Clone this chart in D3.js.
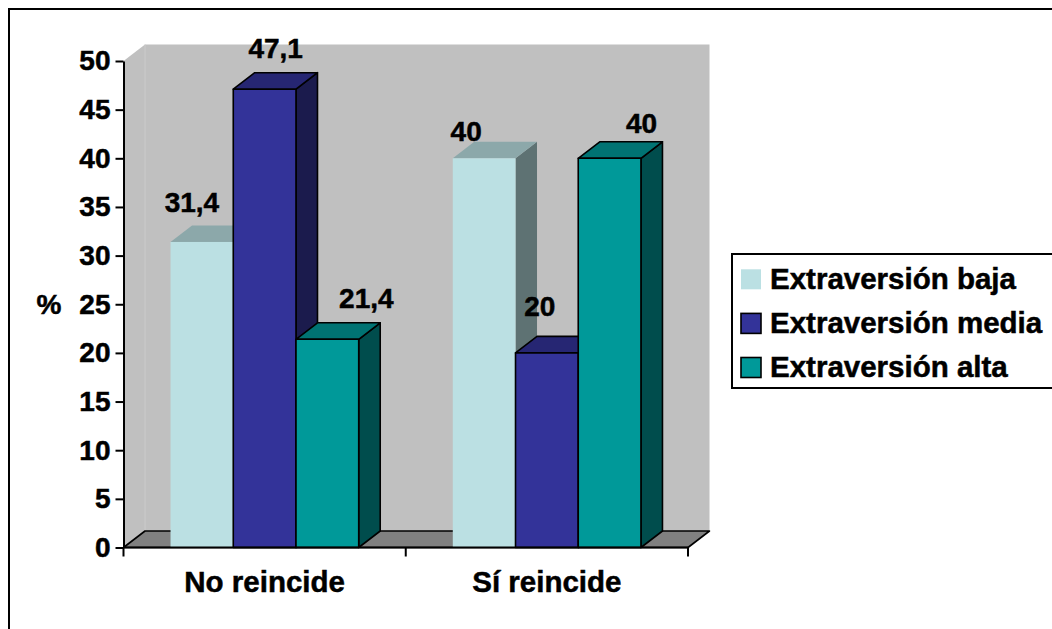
<!DOCTYPE html>
<html>
<head>
<meta charset="utf-8">
<script src="https://cdn.jsdelivr.net/npm/d3@7"></script>
<style>
  body { margin: 0; background: #fff; }
  svg { display: block; }
  text { font-family: "Liberation Sans", Arial, sans-serif; font-weight: bold; fill: #000;
         stroke: #000; stroke-width: 0.5px; }
</style>
</head>
<body>
<svg id="chart" width="1052" height="629"></svg>
<script>
// ---- data ----
const categories = ["No reincide", "Sí reincide"];
const seriesNames = ["Extraversión baja", "Extraversión media", "Extraversión alta"];
const baja  = [31.4, 40];
const media = [47.1, 20];
const alta  = [21.4, 40];
const yTicks = [0, 5, 10, 15, 20, 25, 30, 35, 40, 45, 50];
const yLabel = "%";

// ---- styles ----
const palette = [
  { front: "#BBE0E3", top: "#8CA8AA", side: "#5E7273", stroke: "none" },
  { front: "#333399", top: "#262673", side: "#1B1B4D", stroke: "#000" },
  { front: "#009999", top: "#007373", side: "#004D4D", stroke: "#000" }
];
// value-label nudges (px) from the top-front centre of each bar, per category / series
const labelShift = [
  [[-10, -30], [11, -31], [39, -31]],
  [[-18, -17], [-7, -37], [32, -25]]
];
const depth = { dx: 21.5, dy: -16.5 };

const seriesValues = [baja, media, alta];
const svg = d3.select("#chart");

// outer frame (runs past the right and bottom edges)
svg.append("rect")
  .attr("x", 9).attr("y", 9).attr("width", 1200).attr("height", 800)
  .attr("fill", "none").attr("stroke", "#000").attr("stroke-width", 2);

// ---- scales ----
const y = d3.scaleLinear().domain([0, 50]).range([547.5, 61]);
const x0 = d3.scaleBand().domain(categories).range([123.5, 688]).padding(0);
const x1 = d3.scaleBand().domain(seriesNames).range([0, x0.bandwidth()])
  .paddingInner(0).paddingOuter(0.75);

const [xl, xr] = x0.range();
const y0 = y(0), yMax = y(50);
const { dx, dy } = depth;

// ---- walls and floor ----
const walls = svg.append("g");
walls.append("polygon")   // back wall
  .attr("points", [[xl + dx, yMax + dy], [xr + dx, yMax + dy], [xr + dx, y0 + dy], [xl + dx, y0 + dy]].join(" "))
  .attr("fill", "#C0C0C0");
walls.append("polygon")   // side wall
  .attr("points", [[xl, yMax], [xl + dx, yMax + dy], [xl + dx, y0 + dy], [xl, y0]].join(" "))
  .attr("fill", "#C0C0C0");
walls.append("line")
  .attr("x1", xl + dx).attr("x2", xl + dx).attr("y1", yMax + dy).attr("y2", y0 + dy)
  .attr("stroke", "#CBCBCB").attr("stroke-width", 1);
walls.append("polygon")   // floor
  .attr("points", [[xl, y0], [xl + dx, y0 + dy], [xr + dx, y0 + dy], [xr, y0]].join(" "))
  .attr("fill", "#808080").attr("stroke", "#000").attr("stroke-width", 1.6)
  .attr("stroke-linejoin", "round");

// ---- 3D bars ----
const bars = svg.append("g");
categories.forEach((cat, i) => {
  seriesNames.forEach((s, j) => {
    const v = seriesValues[j][i];
    const c = palette[j];
    const x = x0(cat) + x1(s), w = x1.bandwidth(), yt = y(v);
    const g = bars.append("g")
      .attr("stroke", c.stroke).attr("stroke-width", 1.6).attr("stroke-linejoin", "round");
    g.append("polygon")
      .attr("points", [[x + w, yt], [x + w + dx, yt + dy], [x + w + dx, y0 + dy], [x + w, y0]].join(" "))
      .attr("fill", c.side);
    g.append("polygon")
      .attr("points", [[x, yt], [x + dx, yt + dy], [x + w + dx, yt + dy], [x + w, yt]].join(" "))
      .attr("fill", c.top);
    g.append("rect")
      .attr("x", x).attr("y", yt).attr("width", w).attr("height", y0 - yt)
      .attr("fill", c.front);
  });
});

// ---- value labels ----
const labels = svg.append("g").attr("font-size", 28).attr("text-anchor", "middle");
categories.forEach((cat, i) => {
  seriesNames.forEach((s, j) => {
    const v = seriesValues[j][i];
    const [sx, sy] = labelShift[i][j];
    labels.append("text")
      .attr("x", x0(cat) + x1(s) + x1.bandwidth() / 2 + sx)
      .attr("y", y(v) + sy)
      .text(String(v).replace(".", ","));
  });
});

// ---- y axis ----
const yAxis = svg.append("g")
  .attr("transform", `translate(${xl},0)`)
  .call(d3.axisLeft(y).tickValues(yTicks).tickSize(8).tickPadding(5).tickSizeOuter(0));
yAxis.selectAll("path, line").attr("stroke", "#000").attr("stroke-width", 2);
yAxis.selectAll("text")
  .attr("font-size", 28).attr("font-family", "Liberation Sans, Arial, sans-serif")
  .attr("font-weight", "bold").attr("fill", "#000");

svg.append("text")
  .attr("x", 49).attr("y", y(25)).attr("dy", "0.35em")
  .attr("text-anchor", "middle").attr("font-size", 28)
  .text(yLabel);

// ---- x axis ----
const xAxis = svg.append("g").attr("stroke", "#000").attr("stroke-width", 2);
xAxis.append("line").attr("x1", xl).attr("x2", xr).attr("y1", y0).attr("y2", y0);
const bounds = categories.map(c => x0(c)).concat([xr]);
xAxis.selectAll("line.tick").data(bounds).join("line")
  .attr("class", "tick")
  .attr("x1", d => d).attr("x2", d => d)
  .attr("y1", y0).attr("y2", y0 + 9);
svg.append("g").attr("font-size", 29.5).attr("text-anchor", "middle")
  .selectAll("text").data(categories).join("text")
  .attr("x", d => x0(d) + x0.bandwidth() / 2)
  .attr("y", 592)
  .text(d => d);

// ---- legend ----
const legend = svg.append("g");
legend.append("rect")
  .attr("x", 732).attr("y", 254).attr("width", 400).attr("height", 134)
  .attr("fill", "#fff").attr("stroke", "#000").attr("stroke-width", 2);
const rowY = d3.scalePoint().domain(seriesNames).range([279.3, 367.5]);
seriesNames.forEach((s, j) => {
  const cy = rowY(s);
  legend.append("rect")
    .attr("x", 741).attr("y", cy - 10).attr("width", 20).attr("height", 20)
    .attr("fill", palette[j].front)
    .attr("stroke", palette[j].stroke).attr("stroke-width", 1.6);
  legend.append("text")
    .attr("x", 770).attr("y", cy + 9.5)
    .attr("font-size", 29.5)
    .text(s);
});
</script>
</body>
</html>
